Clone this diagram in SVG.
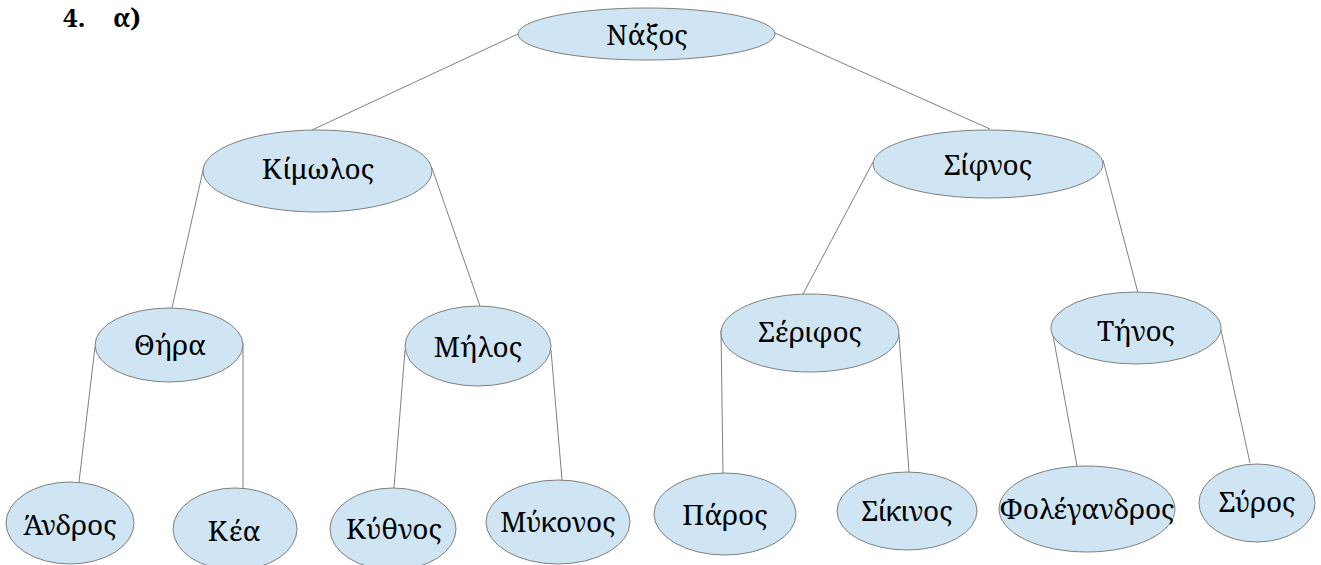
<svg xmlns="http://www.w3.org/2000/svg" width="1321" height="565" viewBox="0 0 1321 565">
<style>
.n ellipse{fill:#cfe5f3;stroke:#7f7f7f;stroke-width:1}
.n text{font-family:'Noto Serif','DejaVu Serif',serif;font-size:28px;fill:#000;text-anchor:middle}
.e line{stroke:#808080;stroke-width:1}
.t{font-family:'Noto Serif','DejaVu Serif',serif;font-size:26px;font-weight:bold;fill:#000}
</style>
<rect width="1321" height="565" fill="#fff"/>
<text class="t" x="63" y="27">4.</text>
<text class="t" x="113" y="27">α)</text>
<g class="e">
<line x1="518" y1="34" x2="312" y2="130"/>
<line x1="775" y1="33" x2="990" y2="129"/>
<line x1="204" y1="166" x2="172" y2="308"/>
<line x1="432" y1="168" x2="480" y2="306"/>
<line x1="873" y1="162" x2="803" y2="294"/>
<line x1="1103" y1="160" x2="1138" y2="293"/>
<line x1="95" y1="347" x2="79" y2="482"/>
<line x1="243" y1="343" x2="243" y2="488"/>
<line x1="405" y1="350" x2="394" y2="488"/>
<line x1="551" y1="350" x2="562" y2="480"/>
<line x1="721" y1="330" x2="723" y2="473"/>
<line x1="899" y1="335" x2="909" y2="472"/>
<line x1="1052" y1="330" x2="1077" y2="466"/>
<line x1="1221" y1="330" x2="1250" y2="463"/>
</g>
<g class="n" id="naxos"><ellipse cx="646.5" cy="34" rx="128.5" ry="26"/><text x="647" y="45">Νάξος</text></g>
<g class="n" id="kimolos"><ellipse cx="317.5" cy="171" rx="114.5" ry="41"/><text x="318" y="179">Κίμωλος</text></g>
<g class="n" id="sifnos"><ellipse cx="988" cy="164" rx="115" ry="34"/><text x="988" y="175">Σίφνος</text></g>
<g class="n" id="thira"><ellipse cx="169" cy="345" rx="74" ry="37"/><text x="170" y="355">Θήρα</text></g>
<g class="n" id="milos"><ellipse cx="478" cy="346" rx="73" ry="40"/><text x="478" y="357">Μήλος</text></g>
<g class="n" id="serifos"><ellipse cx="810" cy="333" rx="89" ry="39"/><text x="810" y="342">Σέριφος</text></g>
<g class="n" id="tinos"><ellipse cx="1136" cy="328" rx="85" ry="36"/><text x="1136" y="341">Τήνος</text></g>
<g class="n" id="andros"><ellipse cx="70" cy="523" rx="64" ry="41"/><text x="70" y="535">Άνδρος</text></g>
<g class="n" id="kea"><ellipse cx="235" cy="529" rx="62" ry="41"/><text x="234" y="541">Κέα</text></g>
<g class="n" id="kythnos"><ellipse cx="393" cy="529" rx="63" ry="41"/><text x="394" y="539">Κύθνος</text></g>
<g class="n" id="mykonos"><ellipse cx="558" cy="522" rx="72" ry="42"/><text x="558" y="532">Μύκονος</text></g>
<g class="n" id="paros"><ellipse cx="725" cy="514" rx="71" ry="41"/><text x="725" y="525">Πάρος</text></g>
<g class="n" id="sikinos"><ellipse cx="907" cy="511" rx="70" ry="39"/><text x="907" y="521">Σίκινος</text></g>
<g class="n" id="folegandros"><ellipse cx="1087" cy="509" rx="88" ry="43"/><text x="1087" y="519">Φολέγανδρος</text></g>
<g class="n" id="syros"><ellipse cx="1257" cy="503" rx="58" ry="39"/><text x="1257" y="512">Σύρος</text></g>
</svg>
